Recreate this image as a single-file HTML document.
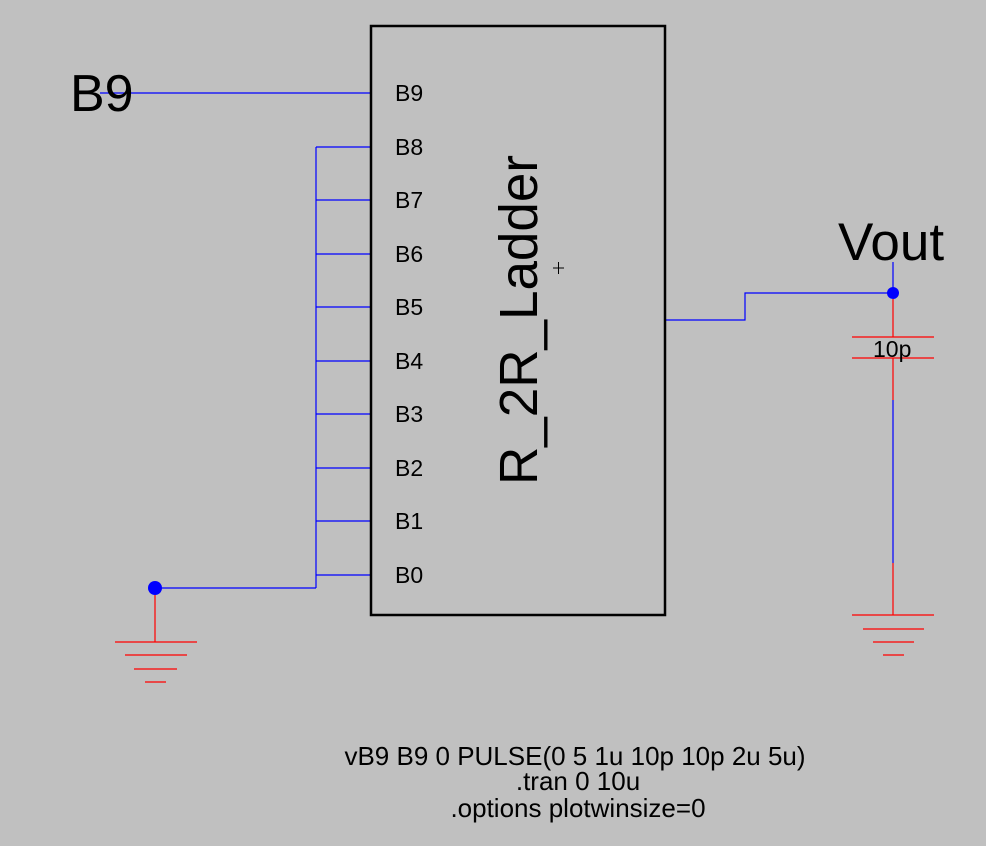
<!DOCTYPE html>
<html><head><style>body{margin:0;background:#c0c0c0}svg{display:block}</style></head><body>
<svg width="986" height="846" xmlns="http://www.w3.org/2000/svg" font-family="Liberation Sans, Arial, sans-serif">
<rect width="986" height="846" fill="#c0c0c0"/>
<g stroke="#0000ff" stroke-width="1.2" fill="none">
<line x1="100" y1="93" x2="370" y2="93"/>
<line x1="316" y1="147" x2="316" y2="588"/>
<line x1="316" y1="147" x2="370" y2="147"/>
<line x1="316" y1="200" x2="370" y2="200"/>
<line x1="316" y1="254" x2="370" y2="254"/>
<line x1="316" y1="307" x2="370" y2="307"/>
<line x1="316" y1="361" x2="370" y2="361"/>
<line x1="316" y1="414" x2="370" y2="414"/>
<line x1="316" y1="468" x2="370" y2="468"/>
<line x1="316" y1="521" x2="370" y2="521"/>
<line x1="316" y1="575" x2="370" y2="575"/>
<line x1="155" y1="588" x2="316" y2="588"/>
<polyline points="665,320 745,320 745,293 893,293"/>
<line x1="893" y1="262" x2="893" y2="293"/>
<line x1="893" y1="400" x2="893" y2="563"/>
</g>
<circle cx="155" cy="588" r="7" fill="#0000ff"/>
<circle cx="893" cy="293" r="6" fill="#0000ff"/>
<g stroke="#ff0000" stroke-width="1.2">
<line x1="155" y1="595" x2="155" y2="642"/>
<line x1="115" y1="642" x2="197" y2="642"/>
<line x1="125" y1="655" x2="187" y2="655"/>
<line x1="134" y1="669" x2="177" y2="669"/>
<line x1="145" y1="682" x2="166" y2="682"/>
<line x1="893" y1="299" x2="893" y2="337"/>
<line x1="852" y1="337" x2="934" y2="337"/>
<line x1="852" y1="358" x2="934" y2="358"/>
<line x1="893" y1="358" x2="893" y2="400"/>
<line x1="893" y1="563" x2="893" y2="615"/>
<line x1="852" y1="615" x2="934" y2="615"/>
<line x1="863" y1="629" x2="924" y2="629"/>
<line x1="873" y1="642" x2="914" y2="642"/>
<line x1="883" y1="655" x2="904" y2="655"/>
</g>
<rect x="371" y="26" width="294" height="589" fill="none" stroke="#000" stroke-width="2.5"/>
<g font-size="23" fill="#000">
<text x="395" y="101">B9</text>
<text x="395" y="155">B8</text>
<text x="395" y="208">B7</text>
<text x="395" y="262">B6</text>
<text x="395" y="315">B5</text>
<text x="395" y="369">B4</text>
<text x="395" y="422">B3</text>
<text x="395" y="476">B2</text>
<text x="395" y="529">B1</text>
<text x="395" y="583">B0</text>
</g>
<text transform="translate(537,485) rotate(-90)" font-size="54" textLength="330" lengthAdjust="spacingAndGlyphs">R_2R_Ladder</text>
<g stroke="#000" stroke-width="1"><line x1="553" y1="268" x2="564" y2="268"/><line x1="558.5" y1="262" x2="558.5" y2="274"/></g>
<text x="70" y="111" font-size="52">B9</text>
<text x="838" y="260" font-size="53">Vout</text>
<text x="873" y="357" font-size="23">10p</text>
<g font-size="26" text-anchor="middle">
<text x="575" y="765">vB9 B9 0 PULSE(0 5 1u 10p 10p 2u 5u)</text>
<text x="578" y="790">.tran 0 10u</text>
<text x="578" y="817">.options plotwinsize=0</text>
</g>
</svg>
</body></html>
